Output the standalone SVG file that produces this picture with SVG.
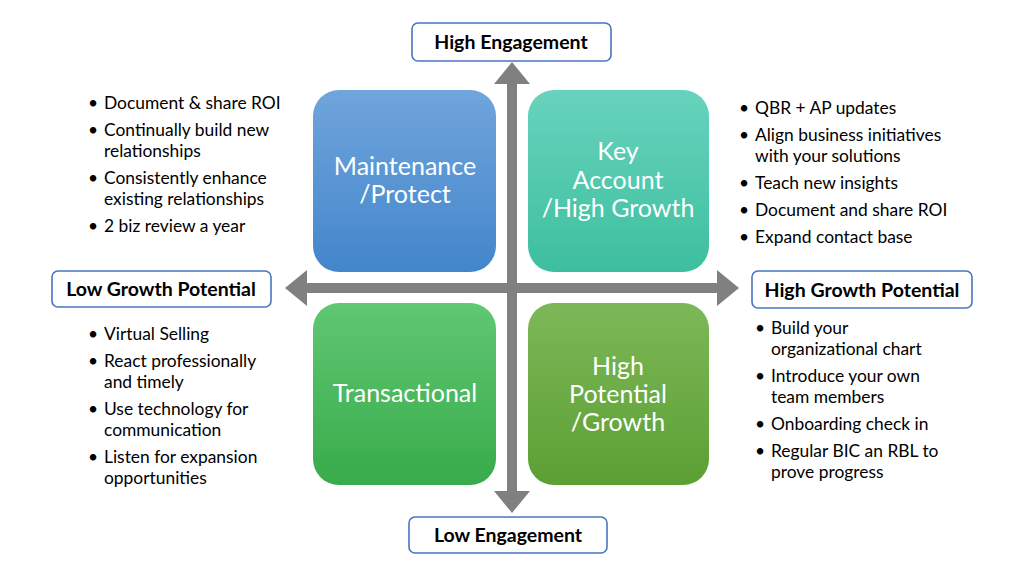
<svg xmlns="http://www.w3.org/2000/svg" width="1024" height="575" viewBox="0 0 1024 575">
<defs>
<linearGradient id="gBlue" x1="0" y1="0" x2="0" y2="1"><stop offset="0" stop-color="#70a5dc"/><stop offset="1" stop-color="#4386cb"/></linearGradient>
<linearGradient id="gTeal" x1="0" y1="0" x2="0" y2="1"><stop offset="0" stop-color="#68d3bd"/><stop offset="1" stop-color="#3dbf9e"/></linearGradient>
<linearGradient id="gGreen" x1="0" y1="0" x2="0" y2="1"><stop offset="0" stop-color="#60c772"/><stop offset="1" stop-color="#38ab4b"/></linearGradient>
<linearGradient id="gOlive" x1="0" y1="0" x2="0" y2="1"><stop offset="0" stop-color="#7db858"/><stop offset="1" stop-color="#5c9f33"/></linearGradient>
</defs>
<style>
.quad{stroke:none}
.qt{font-family:Lato,"Liberation Sans",sans-serif;font-size:25px;fill:#ffffff;text-anchor:middle}
.lbl{fill:#ffffff;stroke:#4a74c0;stroke-width:1.6}
.lt{font-family:Lato,"Liberation Sans",sans-serif;font-size:19.5px;font-weight:bold;fill:#000000;text-anchor:middle}
.bt{font-family:Lato,"Liberation Sans",sans-serif;font-size:17.4px;fill:#000000}
.arrow{fill:#808080}
</style>
<rect width="1024" height="575" fill="#ffffff"/>
<g id="connectors">
<polygon class="arrow" points="285,288 307,270 307,283 717,283 717,270 739,288 717,306 717,293 307,293 307,306"/>
<polygon class="arrow" points="512,62 530,84 517,84 517,491 530,491 512,513 494,491 507,491 507,84 494,84"/>
</g>
<g id="maintenance">
<rect class="quad" x="313" y="90" width="183" height="182" rx="26" fill="url(#gBlue)"/>
<text class="qt" x="405" y="175">Maintenance</text>
<text class="qt" x="405" y="203">/Protect</text>
</g>
<g id="key-account">
<rect class="quad" x="528" y="90" width="181" height="182" rx="26" fill="url(#gTeal)"/>
<text class="qt" x="618" y="160">Key</text>
<text class="qt" x="618" y="189">Account</text>
<text class="qt" x="618" y="217">/High Growth</text>
</g>
<g id="transactional">
<rect class="quad" x="313" y="303" width="183" height="182" rx="26" fill="url(#gGreen)"/>
<text class="qt" x="405" y="402">Transactional</text>
</g>
<g id="high-potential">
<rect class="quad" x="528" y="303" width="181" height="182" rx="26" fill="url(#gOlive)"/>
<text class="qt" x="618" y="375">High</text>
<text class="qt" x="618" y="403">Potential</text>
<text class="qt" x="618" y="431">/Growth</text>
</g>
<g id="high-engagement">
<rect class="lbl" x="412" y="23" width="199" height="38" rx="6"/>
<text class="lt" x="511" y="49">High Engagement</text>
</g>
<g id="low-engagement">
<rect class="lbl" x="409" y="517" width="198" height="36" rx="6"/>
<text class="lt" x="508" y="542">Low Engagement</text>
</g>
<g id="low-growth">
<rect class="lbl" x="52" y="271" width="219" height="36" rx="6"/>
<text class="lt" x="161" y="296">Low Growth Potential</text>
</g>
<g id="high-growth">
<rect class="lbl" x="752" y="271" width="220" height="37" rx="6"/>
<text class="lt" x="862" y="297">High Growth Potential</text>
</g>
<g id="list-top-left" class="bt">
<text x="88" y="109">•</text><text x="104" y="109">Document &amp; share ROI</text>
<text x="88" y="136">•</text><text x="104" y="136">Continually build new</text>
<text x="104" y="157">relationships</text>
<text x="88" y="184">•</text><text x="104" y="184">Consistently enhance</text>
<text x="104" y="205">existing relationships</text>
<text x="88" y="232">•</text><text x="104" y="232">2 biz review a year</text>
</g>
<g id="list-top-right" class="bt">
<text x="739" y="114">•</text><text x="755" y="114">QBR + AP updates</text>
<text x="739" y="141">•</text><text x="755" y="141">Align business initiatives</text>
<text x="755" y="162">with your solutions</text>
<text x="739" y="189">•</text><text x="755" y="189">Teach new insights</text>
<text x="739" y="216">•</text><text x="755" y="216">Document and share ROI</text>
<text x="739" y="243">•</text><text x="755" y="243">Expand contact base</text>
</g>
<g id="list-bottom-left" class="bt">
<text x="88" y="340">•</text><text x="104" y="340">Virtual Selling</text>
<text x="88" y="367">•</text><text x="104" y="367">React professionally</text>
<text x="104" y="388">and timely</text>
<text x="88" y="415">•</text><text x="104" y="415">Use technology for</text>
<text x="104" y="436">communication</text>
<text x="88" y="463">•</text><text x="104" y="463">Listen for expansion</text>
<text x="104" y="484">opportunities</text>
</g>
<g id="list-bottom-right" class="bt">
<text x="755" y="334">•</text><text x="771" y="334">Build your</text>
<text x="771" y="355">organizational chart</text>
<text x="755" y="382">•</text><text x="771" y="382">Introduce your own</text>
<text x="771" y="403">team members</text>
<text x="755" y="430">•</text><text x="771" y="430">Onboarding check in</text>
<text x="755" y="457">•</text><text x="771" y="457">Regular BIC an RBL to</text>
<text x="771" y="478">prove progress</text>
</g>
</svg>
